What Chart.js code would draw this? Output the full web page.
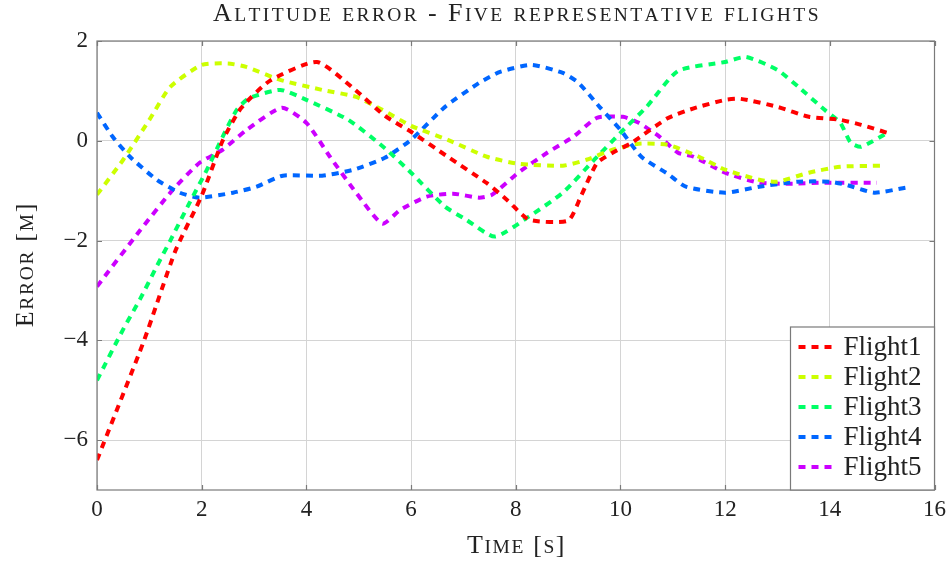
<!DOCTYPE html>
<html>
<head>
<meta charset="utf-8">
<script src="https://cdn.jsdelivr.net/npm/chart.js@4/dist/chart.umd.min.js"></script>
<style>
  html, body { margin: 0; padding: 0; background: #fff; }
  #wrap { width: 952px; height: 565px; }
</style>
</head>
<body>
<div id="wrap"><canvas id="altChart"></canvas></div>
<script>
// Data (time in s, error in m)
const flight1T = [0, 0.9, 1.5, 2.0, 2.4, 2.75, 3.3, 4.2, 4.9, 5.5, 6.0, 6.7, 7.45, 7.85, 8.25, 9.0, 9.25, 9.55, 9.85, 10.2, 10.9, 11.4, 12.0, 12.3, 13.0, 13.6, 14.2, 14.6, 15.1];
const flight1E = [-6.4, -4.0, -2.2, -1.1, 0, 0.65, 1.2, 1.58, 1.05, 0.5, 0.18, -0.32, -0.85, -1.2, -1.58, -1.6, -1.1, -0.45, -0.24, -0.05, 0.45, 0.65, 0.82, 0.84, 0.68, 0.48, 0.42, 0.32, 0.16];

const flight2T = [0, 0.5, 1.0, 1.4, 2.0, 2.5, 2.85, 3.5, 4.3, 4.95, 5.45, 6.0, 6.7, 7.45, 8.05, 8.9, 9.35, 9.85, 10.35, 10.9, 11.5, 12.0, 12.65, 13.0, 13.6, 14.2, 15.0];
const flight2E = [-1.08, -0.38, 0.42, 1.08, 1.52, 1.55, 1.48, 1.22, 1.02, 0.88, 0.62, 0.3, 0.02, -0.32, -0.46, -0.5, -0.38, -0.18, -0.06, -0.08, -0.32, -0.58, -0.78, -0.82, -0.64, -0.52, -0.5];

const flight3T = [0, 0.5, 0.82, 1.14, 1.4, 1.77, 2.1, 2.4, 2.67, 2.9, 3.5, 4.0, 4.8, 5.5, 6.0, 6.65, 7.05, 7.6, 8.25, 8.9, 9.5, 10.0, 10.5, 11.1, 12.0, 12.4, 13.0, 13.4, 13.9, 14.2, 14.4, 14.6, 15.1];
const flight3E = [-4.8, -3.78, -3.18, -2.52, -2.0, -1.24, -0.58, 0.08, 0.62, 0.85, 1.02, 0.82, 0.42, -0.15, -0.64, -1.32, -1.58, -1.92, -1.52, -1.04, -0.38, 0.16, 0.68, 1.4, 1.58, 1.68, 1.42, 1.08, 0.62, 0.36, -0.04, -0.12, 0.16];

const flight4T = [0, 0.3, 0.63, 1.14, 1.58, 1.96, 2.6, 3.05, 3.55, 4.3, 4.9, 5.5, 6.0, 6.65, 7.3, 7.7, 8.3, 8.9, 9.2, 9.6, 10.0, 10.4, 10.9, 11.25, 12.0, 12.65, 13.4, 14.0, 14.3, 14.85, 15.45];
const flight4E = [0.56, 0.08, -0.32, -0.78, -1.04, -1.14, -1.04, -0.92, -0.7, -0.7, -0.58, -0.34, 0.02, 0.68, 1.16, 1.38, 1.52, 1.36, 1.16, 0.68, 0.22, -0.32, -0.66, -0.92, -1.04, -0.92, -0.82, -0.82, -0.88, -1.04, -0.94];

const flight5T = [0, 0.82, 1.45, 1.96, 2.4, 2.86, 3.53, 4.0, 4.45, 4.95, 5.45, 5.8, 6.3, 6.8, 7.3, 7.55, 8.05, 8.6, 9.1, 9.55, 10.05, 10.35, 10.75, 11.1, 11.4, 12.0, 12.65, 13.3, 13.9, 14.9];
const flight5E = [-2.92, -1.8, -0.98, -0.44, -0.18, 0.22, 0.66, 0.36, -0.32, -1.04, -1.66, -1.38, -1.12, -1.06, -1.14, -1.08, -0.64, -0.24, 0.08, 0.46, 0.48, 0.36, 0.08, -0.24, -0.32, -0.64, -0.84, -0.86, -0.84, -0.84];

const flightNames = ["Flight1", "Flight2", "Flight3", "Flight4", "Flight5"];
const flightColors = ["#ff0000", "#ccff00", "#00ff66", "#0066ff", "#cc00ff"];
const xTicks = [0, 2, 4, 6, 8, 10, 12, 14, 16];
const yTicks = [-6, -4, -2, 0, 2];

const chartTitle = "Altitude error - Five representative flights";
const xTitle = "Time [s]";
const yTitle = "Error [m]";

const serif = "'Liberation Serif', 'DejaVu Serif', serif";

function points(ts, es) {
  return ts.map((t, i) => ({ x: t, y: es[i] }));
}

const series = [
  points(flight1T, flight1E),
  points(flight2T, flight2E),
  points(flight3T, flight3E),
  points(flight4T, flight4E),
  points(flight5T, flight5E)
];

// small caps by hand: lowercase letters drawn as smaller capitals
function drawSmallCaps(ctx, text, cx, cy, big, small, spacing, rotate) {
  const parts = [];
  for (const ch of text) {
    const low = ch !== ch.toUpperCase();
    parts.push({ ch: low ? ch.toUpperCase() : ch, size: low ? small : big });
  }
  let w = 0;
  parts.forEach(p => {
    ctx.font = p.size + "px " + serif;
    p.w = ctx.measureText(p.ch).width + spacing;
    w += p.w;
  });
  w -= spacing;
  ctx.save();
  ctx.translate(cx, cy);
  if (rotate) ctx.rotate(-Math.PI / 2);
  ctx.fillStyle = "#222";
  ctx.textBaseline = "alphabetic";
  let x = -w / 2;
  const base = big * 0.33;
  parts.forEach(p => {
    ctx.font = p.size + "px " + serif;
    ctx.fillText(p.ch, x, base);
    x += p.w;
  });
  ctx.restore();
}

// frame, inward ticks, titles and legend like pgfplots
const framePlugin = {
  id: "frame",
  afterDatasetsDraw(chart) {
    const { ctx, chartArea: a, scales } = chart;
    ctx.save();
    ctx.strokeStyle = "#7a7a7a";
    ctx.lineWidth = 1.2;
    ctx.beginPath();
    xTicks.forEach(v => {
      const px = Math.round(scales.x.getPixelForValue(v)) + 0.5;
      ctx.moveTo(px, a.bottom); ctx.lineTo(px, a.bottom - 5);
      ctx.moveTo(px, a.top); ctx.lineTo(px, a.top + 5);
    });
    yTicks.forEach(v => {
      const py = Math.round(scales.y.getPixelForValue(v)) + 0.5;
      ctx.moveTo(a.left, py); ctx.lineTo(a.left + 5, py);
      ctx.moveTo(a.right, py); ctx.lineTo(a.right - 5, py);
    });
    ctx.stroke();
    ctx.strokeRect(a.left, a.top, a.right - a.left, a.bottom - a.top);
    ctx.restore();
  },
  afterDraw(chart) {
    const { ctx, chartArea: a } = chart;
    const midX = (a.left + a.right) / 2;
    const midY = (a.top + a.bottom) / 2;
    drawSmallCaps(ctx, chartTitle, midX, 12, 26, 19.5, 2.4, false);
    drawSmallCaps(ctx, xTitle, midX, 544, 26, 19.5, 1.6, false);
    drawSmallCaps(ctx, yTitle, 24, midY, 26, 19.5, 1.7, true);

    // legend box in the lower right corner
    const boxW = 144, boxH = 163, rowH = 30;
    const bx = a.right - boxW, by = a.bottom - boxH;
    ctx.save();
    ctx.fillStyle = "#fff";
    ctx.fillRect(bx, by, boxW, boxH);
    ctx.strokeStyle = "#7a7a7a";
    ctx.lineWidth = 1.2;
    ctx.strokeRect(bx, by, boxW, boxH);
    ctx.font = "27px " + serif;
    ctx.textBaseline = "middle";
    chart.data.datasets.forEach((ds, i) => {
      const cy = by + 20 + i * rowH;
      ctx.strokeStyle = ds.borderColor;
      ctx.lineWidth = 4;
      ctx.setLineDash([7, 6]);
      ctx.beginPath();
      ctx.moveTo(bx + 8, cy);
      ctx.lineTo(bx + 41, cy);
      ctx.stroke();
      ctx.setLineDash([]);
      ctx.fillStyle = "#222";
      ctx.fillText(ds.label, bx + 53, cy + 1);
    });
    ctx.restore();
  }
};

new Chart(document.getElementById("altChart"), {
  type: "line",
  data: {
    datasets: series.map((pts, i) => ({
      label: flightNames[i],
      data: pts,
      borderColor: flightColors[i],
      backgroundColor: flightColors[i],
      borderWidth: 4,
      borderDash: [7, 6],
      pointRadius: 0,
      tension: 0.2,
      fill: false
    }))
  },
  options: {
    responsive: true,
    maintainAspectRatio: false,
    animation: false,
    layout: { padding: { left: 0, right: 16, top: 41, bottom: 0 } },
    plugins: {
      legend: { display: false },
      tooltip: { enabled: false },
      title: { display: false }
    },
    scales: {
      x: {
        type: "linear",
        min: 0,
        max: 16,
        afterBuildTicks: axis => { axis.ticks = xTicks.map(v => ({ value: v })); },
        afterFit: scale => { scale.height = 75; },
        grid: { color: "#d4d4d4", lineWidth: 1, drawTicks: false },
        border: { display: false },
        ticks: { color: "#222", padding: 6, font: { family: serif, size: 23 } }
      },
      y: {
        type: "linear",
        min: -7,
        max: 2,
        afterBuildTicks: axis => { axis.ticks = yTicks.map(v => ({ value: v })); },
        afterFit: scale => { scale.width = 97; },
        grid: { color: "#d4d4d4", lineWidth: 1, drawTicks: false },
        border: { display: false },
        ticks: {
          color: "#222",
          padding: 9,
          font: { family: serif, size: 23 },
          callback: v => (v < 0 ? "\u2212" + Math.abs(v) : String(v))
        }
      }
    }
  },
  plugins: [framePlugin]
});
</script>
</body>
</html>
